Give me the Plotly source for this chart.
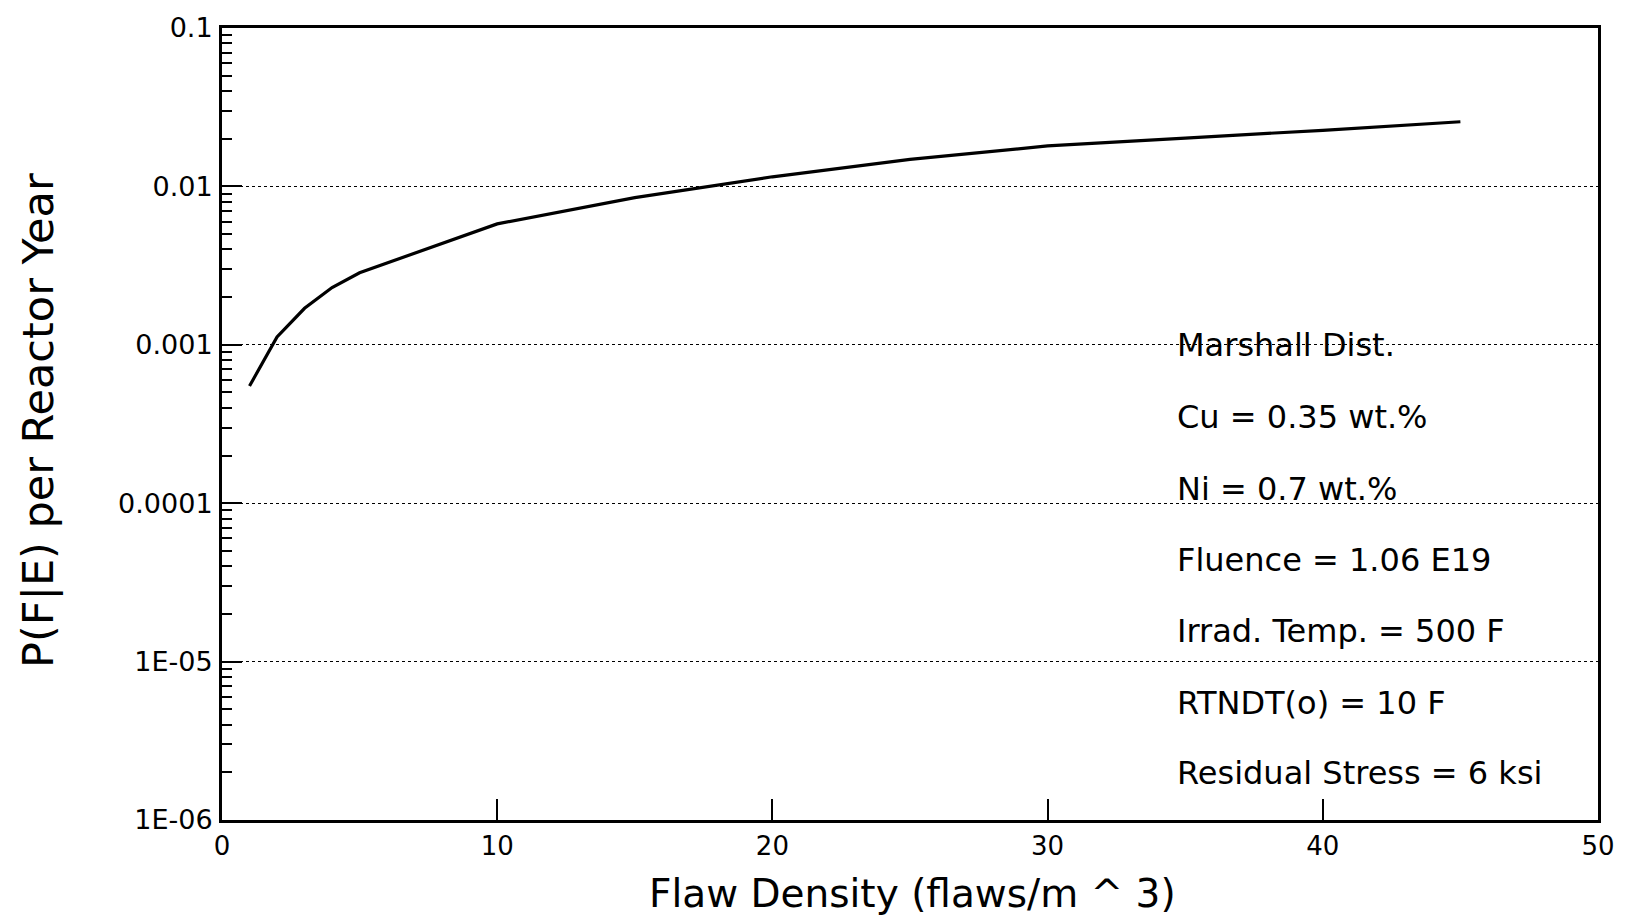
import plotly.graph_objects as go

# Flaw density (flaws/m^3) and conditional failure probability per reactor year
flaw_density = [1, 2, 3, 4, 5, 10, 15, 20, 25, 30, 35, 40, 45]
p_fe = [5.5e-4, 1.12e-3, 1.7e-3, 2.3e-3, 2.85e-3, 5.8e-3, 8.5e-3,
        1.15e-2, 1.48e-2, 1.80e-2, 2.02e-2, 2.26e-2, 2.56e-2]

y_tickvals = [1e-6, 1e-5, 1e-4, 1e-3, 1e-2, 1e-1]
y_ticktext = ["1E-06", "1E-05", "0.0001", "0.001", "0.01", "0.1"]
x_tickvals = [0, 10, 20, 30, 40, 50]
x_ticktext = ["0", "10", "20", "30", "40", "50"]

case_notes = [
    "Marshall Dist.",
    "Cu = 0.35 wt.%",
    "Ni = 0.7 wt.%",
    "Fluence = 1.06 E19",
    "Irrad. Temp. = 500 F",
    "RTNDT(o) = 10 F",
    "Residual Stress = 6 ksi",
]

FONT = "DejaVu Sans, Liberation Sans, Arial, sans-serif"

# log-scale minor tick positions (2..9 within each decade)
minor_vals = [m * 10.0 ** e for e in range(-6, -1) for m in range(2, 10)]

fig = go.Figure()
fig.add_trace(go.Scatter(
    x=flaw_density, y=p_fe, mode="lines",
    line=dict(color="black", width=3.2),
    showlegend=False,
))

W, H = 1627, 924
ml, mr, mt, mb = 222, 29, 22, 104

fig.update_layout(
    width=W, height=H,
    margin=dict(l=ml, r=mr, t=mt, b=mb),
    paper_bgcolor="white", plot_bgcolor="white",
    font=dict(family=FONT, color="black", size=26),
    xaxis=dict(
        range=[0, 50], tickmode="array", tickvals=x_tickvals, ticktext=x_ticktext,
        ticks="inside", ticklen=21, tickwidth=2, tickcolor="black",
        showline=True, linecolor="black", linewidth=3, mirror=True,
        showgrid=False, zeroline=False, ticklabelstandoff=1,
        tickfont=dict(size=26),
    ),
    yaxis=dict(
        type="log", range=[-6, -1], tickmode="array",
        tickvals=y_tickvals, ticktext=y_ticktext,
        ticks="inside", ticklen=20, tickwidth=2, tickcolor="black",
        minor=dict(tickmode="array", tickvals=minor_vals, ticks="inside",
                   ticklen=10, tickwidth=2, tickcolor="black", showgrid=False),
        showline=True, linecolor="black", linewidth=3, mirror=True,
        showgrid=True, gridcolor="black", gridwidth=1.3, griddash="dot",
        zeroline=False, ticklabelstandoff=1,
        tickfont=dict(size=27),
    ),
    yaxis2=dict(
        type="log", range=[-6, -1], overlaying="y", side="right",
        tickmode="array", tickvals=y_tickvals, showticklabels=False,
        ticks="inside", ticklen=5, tickwidth=1.5, tickcolor="black",
        minor=dict(tickmode="array", tickvals=minor_vals, ticks="inside",
                   ticklen=4, tickwidth=1.5, tickcolor="black", showgrid=False),
        showgrid=False, zeroline=False, showline=False,
    ),
)

plot_w = W - ml - mr
plot_h = H - mt - mb

# axis titles
fig.add_annotation(
    text="Flaw Density (flaws/m ^ 3)", xref="paper", yref="paper",
    x=(913 - ml) / plot_w, y=(H - mb - 894) / plot_h,
    showarrow=False, xanchor="center", yanchor="middle",
    font=dict(family=FONT, size=39, color="black"),
)
fig.add_annotation(
    text="P(F|E) per Reactor Year", xref="paper", yref="paper",
    x=(38 - ml) / plot_w, y=(H - mb - 418) / plot_h, textangle=-90,
    showarrow=False, xanchor="center", yanchor="middle",
    font=dict(family=FONT, size=43, color="black"),
)

# case description block
note_y = [341, 414, 486, 558, 630, 702, 773]
for txt, yp in zip(case_notes, note_y):
    fig.add_annotation(
        text=txt, xref="paper", yref="paper",
        x=(1175 - ml) / plot_w, y=(H - mb - yp) / plot_h,
        showarrow=False, xanchor="left", yanchor="middle",
        font=dict(family=FONT, size=32, color="black"),
    )

fig.write_html("out.html")
